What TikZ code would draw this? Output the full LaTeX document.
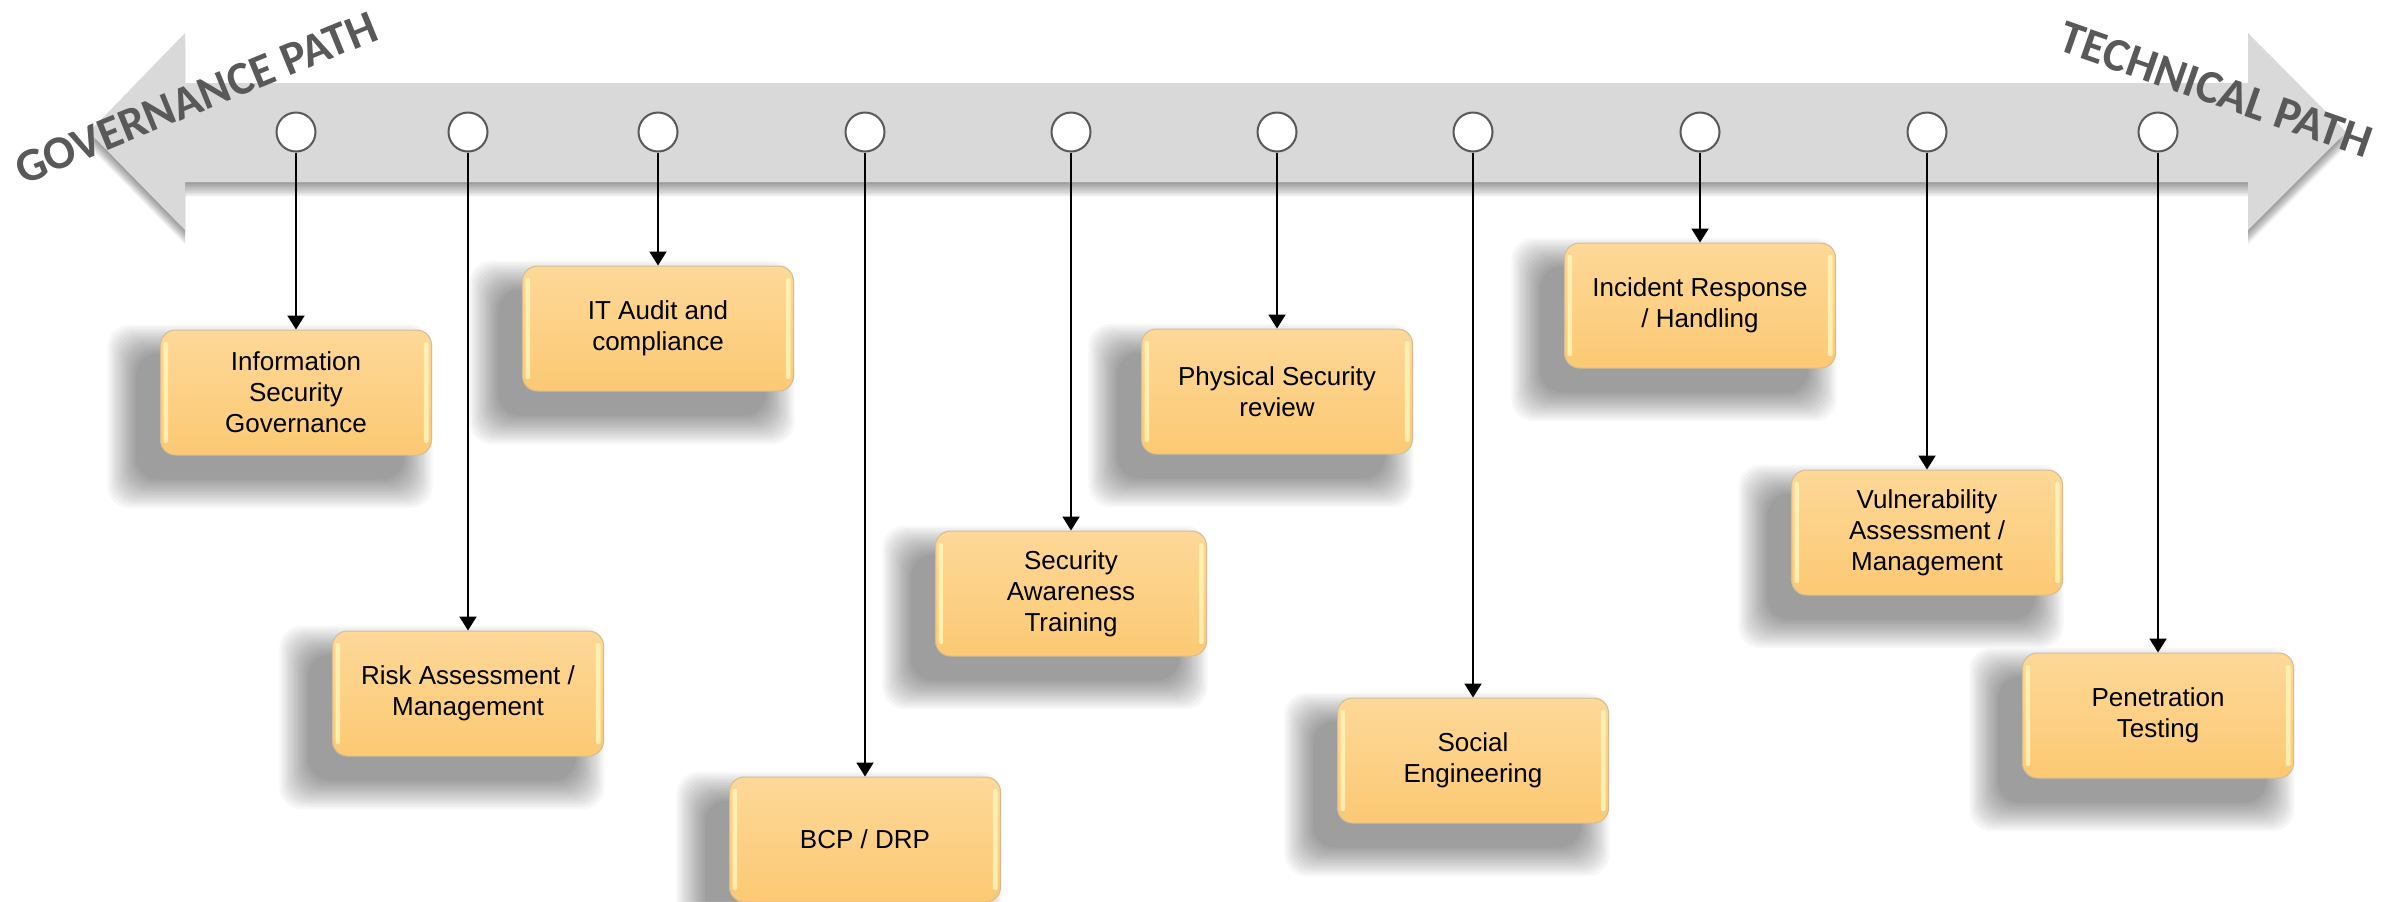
\documentclass[tikz,border=0pt]{standalone}
\usepackage{fontspec}
\setmainfont{Liberation Sans}
\newfontfamily\titlefont{Carlito}
\usetikzlibrary{arrows.meta,backgrounds}
\definecolor{arrowgrey}{HTML}{D9D9D9}
\definecolor{ringgrey}{HTML}{595959}
\definecolor{titlegrey}{HTML}{595959}
\definecolor{boxtop}{HTML}{FDD898}
\definecolor{boxbot}{HTML}{FCC973}
\definecolor{boxline}{HTML}{D2BD98}
\definecolor{gloss}{HTML}{FFF4B8}
\tikzset{
  topic/.style={rectangle, rounded corners=7.5pt, minimum width=135.5pt,
    minimum height=62.5pt, inner sep=0pt, align=center, draw=boxline,
    line width=0.5pt, top color=boxtop, bottom color=boxbot,
    font=\fontsize{13}{15.5}\selectfont,
    path picture={
      \fill[gloss, opacity=0.85, rounded corners=1pt]
        ([xshift=1.5pt,yshift=-6pt]path picture bounding box.north west)
        rectangle ([xshift=3.8pt,yshift=6pt]path picture bounding box.south west);
      \fill[gloss, opacity=0.85, rounded corners=1pt]
        ([xshift=-1.5pt,yshift=-6pt]path picture bounding box.north east)
        rectangle ([xshift=-3.8pt,yshift=6pt]path picture bounding box.south east);
    }},
  dot/.style={circle, draw=ringgrey, line width=1pt, fill=white,
    minimum size=19.5pt, inner sep=0pt},
  link/.style={draw=black, line width=1pt, -{Triangle[length=7pt,width=8.5pt]}},
  pathlabel/.style={font=\titlefont\bfseries\fontsize{23.5}{27}\selectfont,
    text=titlegrey, anchor=base, inner sep=0pt},
  shadelayer/.style={black, fill opacity=0.03, rounded corners=11pt}
}
\newcommand\boxshade[1]{%
  \foreach \k in {0,...,13}{%
    \pgfmathsetmacro\dd{(13-\k)*1.1}%
    \fill[shadelayer]
      ([shift={({(-12-\dd)*1pt},{(-12+\dd)*1pt})}]#1.north west) rectangle
      ([shift={({(-14+\dd)*1pt},{(-12-\dd)*1pt})}]#1.south east);
  }}
\begin{document}
\begin{tikzpicture}[x=0.5pt,y=0.5pt]
\useasboundingbox (0,0) rectangle (2407,-901);
% big double arrow
\fill[arrowgrey, save path=\arrowshape]
  (89,-132) -- (185,-33) -- (185,-83) -- (2248,-83) -- (2248,-33) -- (2346,-132)
  -- (2248,-230) -- (2248,-182) -- (185,-182) -- (185,-230) -- cycle;
% path labels
\node[pathlabel, rotate=22.2] (gov) at (202,-112) {GOVERNANCE PATH};
\node[pathlabel, rotate=-19.3] (tech) at (2211,-104) {TECHNICAL PATH};
% circles on the timeline
\node[dot] (c1) at (296,-132) {};
\node[dot] (c2) at (468,-132) {};
\node[dot] (c3) at (658,-132) {};
\node[dot] (c4) at (865,-132) {};
\node[dot] (c5) at (1071,-132) {};
\node[dot] (c6) at (1277,-132) {};
\node[dot] (c7) at (1473,-132) {};
\node[dot] (c8) at (1700,-132) {};
\node[dot] (c9) at (1927,-132) {};
\node[dot] (c10) at (2158,-132) {};
% topic boxes
\node[topic] (b1) at (296,-392.5) {Information\\Security\\Governance};
\node[topic] (b2) at (468,-693.5) {Risk Assessment /\\Management};
\node[topic] (b3) at (658,-328.5) {IT Audit and\\compliance};
\node[topic] (b4) at (865,-839.5) {BCP / DRP};
\node[topic] (b5) at (1071,-593.5) {Security\\Awareness\\Training};
\node[topic] (b6) at (1277,-391.5) {Physical Security\\review};
\node[topic] (b7) at (1473,-760.5) {Social\\Engineering};
\node[topic] (b8) at (1700,-305.5) {Incident Response\\/ Handling};
\node[topic] (b9) at (1927,-532.5) {Vulnerability\\Assessment /\\Management};
\node[topic] (b10) at (2158,-715.5) {Penetration\\Testing};
% connectors
\draw[link] (c1.south) -- (b1.north);
\draw[link] (c2.south) -- (b2.north);
\draw[link] (c3.south) -- (b3.north);
\draw[link] (c4.south) -- (b4.north);
\draw[link] (c5.south) -- (b5.north);
\draw[link] (c6.south) -- (b6.north);
\draw[link] (c7.south) -- (b7.north);
\draw[link] (c8.south) -- (b8.north);
\draw[link] (c9.south) -- (b9.north);
\draw[link] (c10.south) -- (b10.north);
% background: white page, shadows
\begin{pgfonlayer}{background}
  \fill[white] (0,0) rectangle (2407,-901);
  \foreach \k in {1,...,8}{%
    \pgfmathsetmacro\sy{-0.9*\k}%
    \fill[black, fill opacity=0.055, use path=\arrowshape,
          transform canvas={yshift=\sy pt}];
  }
  \foreach \b in {b1,b2,b3,b4,b5,b6,b7,b8,b9,b10}{\boxshade{\b}}
\end{pgfonlayer}
\end{tikzpicture}
\end{document}
